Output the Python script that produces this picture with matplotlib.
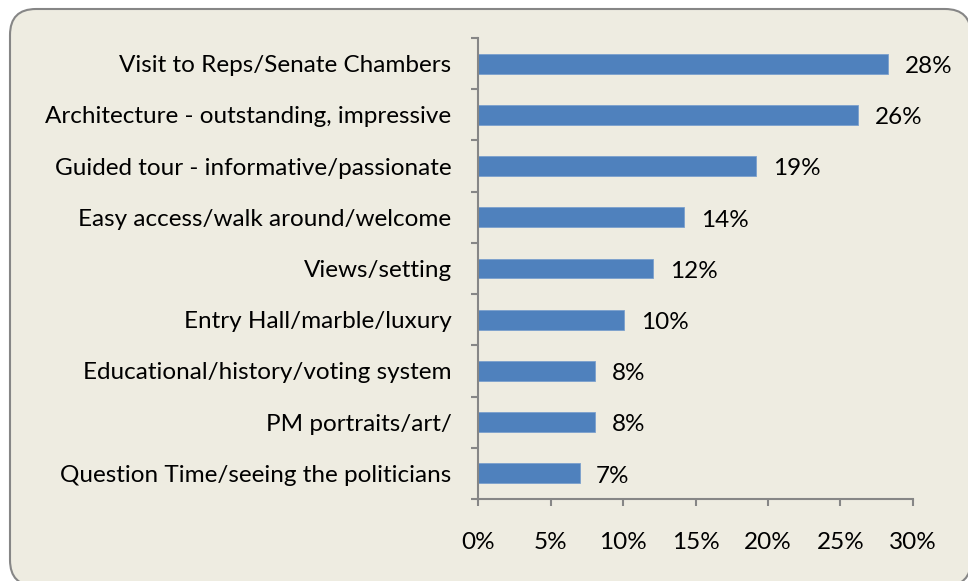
import matplotlib
matplotlib.use("Agg")
import matplotlib.pyplot as plt
from matplotlib.patches import FancyBboxPatch
import numpy as np

categories = [
    "Visit to Reps/Senate Chambers",
    "Architecture - outstanding, impressive",
    "Guided tour - informative/passionate",
    "Easy access/walk around/welcome",
    "Views/setting",
    "Entry Hall/marble/luxury",
    "Educational/history/voting system",
    "PM portraits/art/",
    "Question Time/seeing the politicians",
]
values = [28.3, 26.2, 19.2, 14.2, 12.1, 10.1, 8.1, 8.1, 7.0]
xticks = [0, 5, 10, 15, 20, 25, 30]

bg = "#EEECE1"
bar_color = "#4F81BD"
axis_color = "#868686"
FS = 17.5

plt.rcParams['font.family'] = ['Lato', 'DejaVu Sans']

W, H = 968, 581
fig = plt.figure(figsize=(W / 100, H / 100), dpi=100)
fig.patch.set_facecolor("white")

bgax = fig.add_axes([0, 0, 1, 1], zorder=-1)
bgax.set_xlim(0, W)
bgax.set_ylim(H, 0)
bgax.axis("off")
box = FancyBboxPatch((10, 9), 961, 577, boxstyle="round,pad=0,rounding_size=26",
                     facecolor=bg, edgecolor=axis_color, linewidth=1.5)
bgax.add_patch(box)

ax = fig.add_axes([478 / W, (H - 499) / H, (913 - 478) / W, (499 - 38) / H])
ax.set_facecolor("none")
n = len(categories)
y = np.arange(n)
ax.barh(y, values, height=0.39, color=bar_color, edgecolor="#7BA0CD", linewidth=0.6)
ax.set_ylim(n - 0.5, -0.5)
ax.set_xlim(0, 30)
ax.set_xticks(xticks)
ax.set_xticklabels([f"{t}%" for t in xticks], fontsize=FS)
ax.set_yticks(y)
ax.set_yticklabels(categories, fontsize=FS)
ax.set_yticks(np.arange(n + 1) - 0.5, minor=True)
ax.tick_params(axis='y', which='major', length=0, pad=19)
ax.tick_params(axis='y', which='minor', length=5, width=1.5, color=axis_color, direction='out')
ax.tick_params(axis='x', which='major', length=5, width=1.5, color=axis_color, direction='out', pad=18.5)
for s in ["top", "right"]:
    ax.spines[s].set_visible(False)
for s in ["left", "bottom"]:
    ax.spines[s].set_color(axis_color)
    ax.spines[s].set_linewidth(1.5)

for yi, v in zip(y, values):
    ax.annotate(f"{v:.0f}%", xy=(v, yi), xytext=(12, -2), textcoords="offset points",
                va="center", ha="left", fontsize=FS, color="black")

fig.savefig("out.png", dpi=100, facecolor=fig.get_facecolor())
